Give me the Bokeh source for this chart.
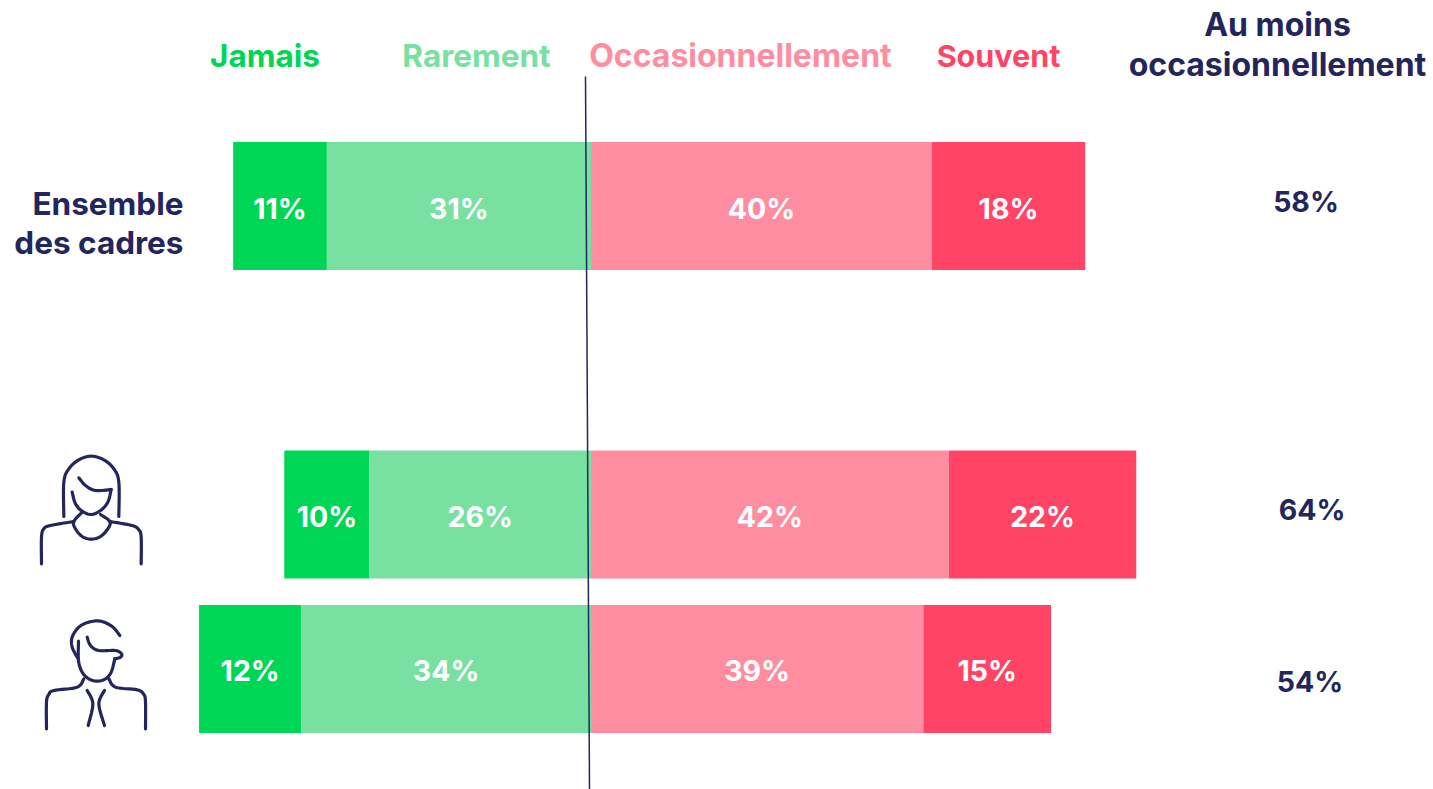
from bokeh.plotting import figure
from bokeh.models import Range1d, ColumnDataSource
from bokeh.core.properties import value
from bokeh.embed import file_html
from bokeh.resources import INLINE

# ---- data ----
categories = ["Ensemble des cadres", "Femmes", "Hommes"]
series_names = ["Jamais", "Rarement", "Occasionnellement", "Souvent"]
jamais = [11, 10, 12]
rarement = [31, 26, 34]
occasionnellement = [40, 42, 39]
souvent = [18, 22, 15]
au_moins = [58, 64, 54]
total_title = ["Au moins", "occasionnellement"]
category_label_lines = ["Ensemble", "des cadres"]

# ---- layout / style ----
W, H = 1433, 789
ZERO_PX, PCT_PX = 590.5, 8.52
ROW_Y0, ROW_PX = 205.5, 154.3
row_pos = [0, 2, 3]
BAR_H = 128 / ROW_PX
C_J, C_R, C_O, C_S = "#00D655", "#78E0A1", "#FF8DA1", "#FF4465"
NAVY = "#22265C"
FONT = value("Inter")


def sx(px):
    return (px - ZERO_PX) / PCT_PX


p = figure(width=W, height=H, output_backend="svg", toolbar_location=None,
           x_range=Range1d(sx(0), sx(W)),
           y_range=Range1d((H - ROW_Y0) / ROW_PX, (0 - ROW_Y0) / ROW_PX),
           min_border=0, outline_line_color=None, background_fill_color="white")
p.axis.visible = False
p.grid.visible = False
p.extra_x_ranges["px"] = Range1d(0, W)
p.extra_y_ranges["px"] = Range1d(H, 0)

# stacked diverging bars
left_edge = [-(a + b) for a, b in zip(jamais, rarement)]
segments = [(jamais, C_J), (rarement, C_R), (occasionnellement, C_O), (souvent, C_S)]
starts = left_edge
for vals, col in segments:
    ends = [s + v for s, v in zip(starts, vals)]
    src = ColumnDataSource(dict(y=row_pos, left=starts, right=ends,
                                mid=[(s + e) / 2 for s, e in zip(starts, ends)],
                                lab=[f"{v}%" for v in vals]))
    p.hbar(y="y", left="left", right="right", height=BAR_H, fill_color=col,
           line_color=None, source=src)
    p.text(x="mid", y="y", text="lab", source=src, text_color="white", text_font=FONT,
           text_font_style="bold", text_font_size="28.5px", text_align="center",
           text_baseline="middle", y_offset=2)
    starts = ends

PX = dict(x_range_name="px", y_range_name="px")


def label(x, y, t, col, size="31.5px", align="center"):
    p.text(x=[x], y=[y], text=[t], text_color=col, text_font=FONT, text_font_style="bold",
           text_font_size=size, text_align=align, text_baseline="middle", **PX)


# headers
for name, col, cx, size in zip(series_names, [C_J, C_R, C_O, C_S], [264.5, 476, 740, 998],
                               ["31.5px", "31.5px", "32px", "30.5px"]):
    label(cx, 55, name, col, size)
for t, y in zip(total_title, [24, 64]):
    label(1277, y, t, NAVY, "32px")
for t, y in zip(category_label_lines, [203, 242]):
    label(183, y, t, NAVY, align="right")
for v, x, y in zip(au_moins, [1305.5, 1311.5, 1309.5], [201, 509, 681]):
    label(x, y, f"{v}%", NAVY, "28.5px")

# reference line (slightly slanted in the original)
p.line([585, 589], [76, 789], line_color=NAVY, line_width=1.5, **PX)


def smooth(pts, n=8):
    out = []
    P = [pts[0]] + list(pts) + [pts[-1]]
    for i in range(1, len(P) - 2):
        p0, p1, p2, p3 = P[i - 1], P[i], P[i + 1], P[i + 2]
        for k in range(n):
            t = k / n
            out.append(tuple(0.5 * (2 * p1[j] + (p2[j] - p0[j]) * t
                                    + (2 * p0[j] - 5 * p1[j] + 4 * p2[j] - p3[j]) * t * t
                                    + (3 * p1[j] - p0[j] - 3 * p2[j] + p3[j]) * t ** 3)
                             for j in range(2)))
    out.append(pts[-1])
    return out


woman = [
    [(130, 228), (130, 125), (145, 85), (175, 58), (212, 47), (250, 58), (280, 85), (295, 125), (295, 228)],
    [(175, 112), (195, 135), (225, 150), (272, 147)],
    [(272, 147), (262, 185), (240, 210), (212, 222), (185, 212), (165, 190), (155, 155)],
    [(185, 215), (160, 243), (165, 265), (185, 288), (212, 296), (240, 288), (262, 265), (268, 243), (240, 222)],
    [(160, 243), (90, 255), (70, 265), (63, 290), (63, 370)],
    [(268, 243), (335, 255), (355, 268), (362, 290), (362, 370)],
]
man = [
    [(298, 585), (275, 558), (240, 542), (205, 545), (175, 560), (155, 590), (155, 620), (170, 650)],
    [(174, 602), (174, 660), (185, 695), (205, 715), (230, 722), (255, 715), (272, 695), (283, 655)],
    [(200, 590), (210, 615), (235, 630), (285, 630), (303, 640), (300, 650), (283, 655)],
    [(190, 715), (170, 740), (100, 750), (85, 762), (78, 785), (78, 865)],
    [(265, 715), (285, 740), (350, 748), (370, 762), (375, 785), (375, 865)],
    [(200, 750), (217, 790), (203, 855)],
    [(252, 750), (235, 790), (252, 855)],
]
for path in woman + man:
    s = smooth(path)
    p.line([20 + a / 3 for a, _ in s], [440 + b / 3 for _, b in s], line_color=NAVY,
           line_width=3.2, line_join="round", line_cap="round", **PX)

open("out.html", "w").write(file_html(p, INLINE))
